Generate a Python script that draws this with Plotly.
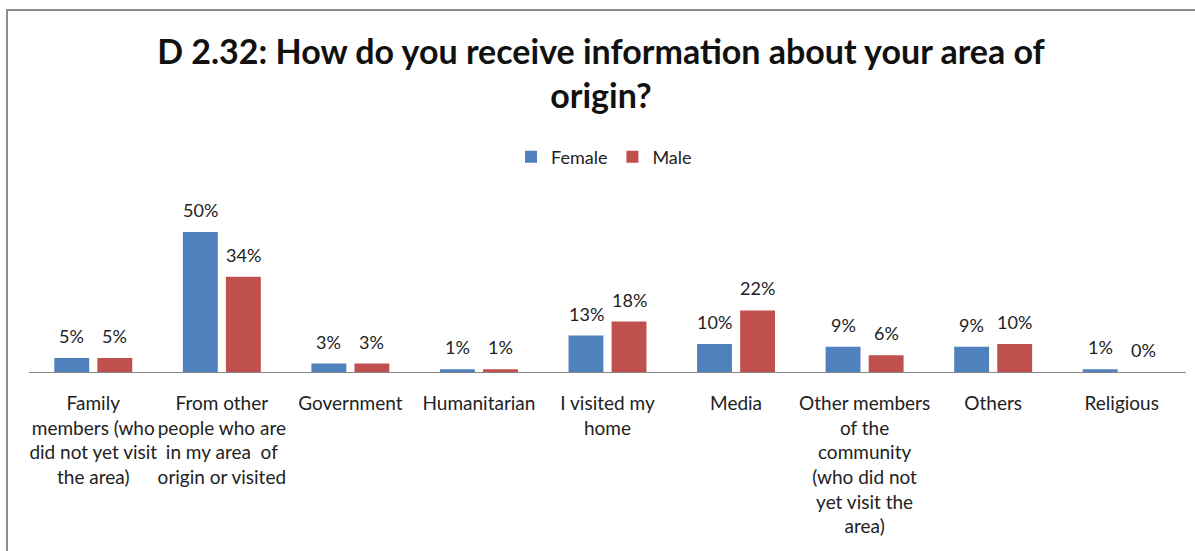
import plotly.graph_objects as go

categories = [
    "Family<br>members (who<br>did not yet visit<br>the area)",
    "From other<br>people who are<br>in my area  of<br>origin or visited",
    "Government",
    "Humanitarian",
    "I visited my<br>home",
    "Media",
    "Other members<br>of the<br>community<br>(who did not<br>yet visit the<br>area)",
    "Others",
    "Religious",
]
female = [5, 50, 3, 1, 13, 10, 9, 9, 1]
male = [5, 34, 3, 1, 18, 22, 6, 10, 0]

FONT = "Lato"
LABEL_FONT = dict(family=FONT, size=18, color="#222222")

fig = go.Figure()
fig.add_trace(go.Bar(
    name="Female", x=categories, y=female,
    marker=dict(color="#4F81BD", line=dict(width=0)),
))
fig.add_trace(go.Bar(
    name="Male", x=categories, y=male,
    marker=dict(color="#C0504D", line=dict(width=0)),
))

# value labels above each bar, nudged left/right onto the grouped bars
for series, dx in ((female, -21.5), (male, 21.5)):
    for cat, v in zip(categories, series):
        fig.add_annotation(
            x=cat, y=v, xref="x", yref="y",
            text=f"{v}%", showarrow=False,
            xanchor="center", yanchor="bottom",
            xshift=dx, yshift=9, font=LABEL_FONT,
        )

# outer chart frame (runs past the right and bottom edges)
L, R, T, B = 29, 9, 204, 179
W, H = 1195, 551
pw, ph = W - L - R, H - T - B
def px(x):
    return (x - L) / pw
def py(y):
    return (H - B - y) / ph

fig.add_shape(type="rect", xref="paper", yref="paper",
              x0=px(7), x1=px(1210), y0=py(570), y1=py(10),
              line=dict(color="#8c8c8c", width=2), layer="below")

fig.update_layout(
    width=W, height=H,
    margin=dict(l=L, r=R, t=T, b=B),
    paper_bgcolor="white", plot_bgcolor="white",
    barmode="group", bargap=0.33, bargroupgap=0.19,
    title=dict(
        text="<b>D 2.32: How do you receive information about your area of<br>origin?</b>",
        xref="container", x=601 / W, xanchor="center",
        yref="container", y=1 - 64 / H, yanchor="middle",
        font=dict(family=FONT, size=34, color="#111111"),
    ),
    legend=dict(
        orientation="h", xref="paper", x=px(604), xanchor="center",
        yref="paper", y=py(157), yanchor="middle",
        font=dict(family=FONT, size=18, color="#222222"),
        itemwidth=30, traceorder="normal",
    ),
    font=dict(family=FONT, size=18, color="#222222"),
    showlegend=True,
)
fig.update_xaxes(
    showline=True, linecolor="#868686", linewidth=1,
    ticks="", tickangle=0,
    tickfont=dict(family=FONT, size=19, color="#222222"),
    ticklabelstandoff=14,
    showgrid=False, fixedrange=True,
)
fig.update_yaxes(
    range=[0, 60], visible=False, showgrid=False, zeroline=False,
)

fig.write_html("out.html")
